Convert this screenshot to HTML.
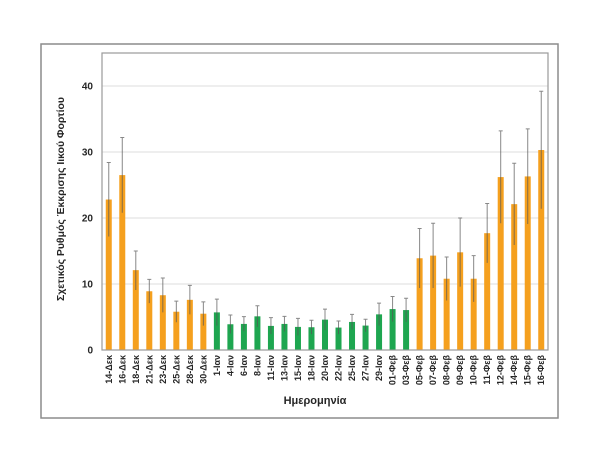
<!DOCTYPE html>
<html><head><meta charset="utf-8"><style>
html,body{margin:0;padding:0;background:#fff;}
svg{display:block;}
text{font-family:"Liberation Sans",sans-serif;font-weight:bold;fill:#262626;}
</style></head><body>
<svg width="600" height="463" viewBox="0 0 600 463" xmlns="http://www.w3.org/2000/svg">
<rect x="0" y="0" width="600" height="463" fill="#fff"/>
<rect x="41" y="44" width="517" height="374" fill="none" stroke="#8c8c8c" stroke-width="1.5"/>
<!-- gridlines -->
<g stroke="#dcdcdc" stroke-width="1">
<line x1="102" y1="284" x2="548" y2="284"/>
<line x1="102" y1="218" x2="548" y2="218"/>
<line x1="102" y1="152" x2="548" y2="152"/>
<line x1="102" y1="86" x2="548" y2="86"/>
</g>
<rect x="102" y="53" width="446" height="297" fill="none" stroke="#9a9a9a" stroke-width="1.2"/>
<!-- bars -->
<g transform="translate(0,350) scale(1,-6.6)">
<g fill="#F5A01E">
<rect x="105.76" y="0" width="6" height="22.8"/>
<rect x="119.27" y="0" width="6" height="26.5"/>
<rect x="132.79" y="0" width="6" height="12.1"/>
<rect x="146.30" y="0" width="6" height="8.9"/>
<rect x="159.82" y="0" width="6" height="8.3"/>
<rect x="173.33" y="0" width="6" height="5.8"/>
<rect x="186.85" y="0" width="6" height="7.6"/>
<rect x="200.36" y="0" width="6" height="5.5"/>
<rect x="416.61" y="0" width="6" height="13.9"/>
<rect x="430.12" y="0" width="6" height="14.3"/>
<rect x="443.64" y="0" width="6" height="10.8"/>
<rect x="457.15" y="0" width="6" height="14.8"/>
<rect x="470.67" y="0" width="6" height="10.8"/>
<rect x="484.18" y="0" width="6" height="17.7"/>
<rect x="497.70" y="0" width="6" height="26.2"/>
<rect x="511.21" y="0" width="6" height="22.1"/>
<rect x="524.73" y="0" width="6" height="26.3"/>
<rect x="538.24" y="0" width="6" height="30.3"/>
</g>
<g fill="#1EA650">
<rect x="213.88" y="0" width="6" height="5.7"/>
<rect x="227.39" y="0" width="6" height="3.9"/>
<rect x="240.91" y="0" width="6" height="3.95"/>
<rect x="254.42" y="0" width="6" height="5.1"/>
<rect x="267.94" y="0" width="6" height="3.65"/>
<rect x="281.45" y="0" width="6" height="3.95"/>
<rect x="294.97" y="0" width="6" height="3.5"/>
<rect x="308.48" y="0" width="6" height="3.45"/>
<rect x="322.00" y="0" width="6" height="4.6"/>
<rect x="335.52" y="0" width="6" height="3.4"/>
<rect x="349.03" y="0" width="6" height="4.25"/>
<rect x="362.55" y="0" width="6" height="3.7"/>
<rect x="376.06" y="0" width="6" height="5.4"/>
<rect x="389.58" y="0" width="6" height="6.2"/>
<rect x="403.09" y="0" width="6" height="6.05"/>
</g>
<!-- error bars -->
<g stroke="#555" stroke-opacity="0.7" stroke-width="1" vector-effect="non-scaling-stroke" fill="none">
<path vector-effect="non-scaling-stroke" d="
M108.76 17.2V28.4M106.76 28.4H110.76
M122.27 20.8V32.2M120.27 32.2H124.27
M135.79 9.1V15.0M133.79 15.0H137.79
M149.30 7.1V10.7M147.30 10.7H151.30
M162.82 5.7V10.9M160.82 10.9H164.82
M176.33 4.2V7.4M174.33 7.4H178.33
M189.85 5.4V9.8M187.85 9.8H191.85
M203.36 3.7V7.3M201.36 7.3H205.36
M216.88 3.7V7.7M214.88 7.7H218.88
M230.39 2.5V5.3M228.39 5.3H232.39
M243.91 2.85V5.05M241.91 5.05H245.91
M257.42 3.5V6.7M255.42 6.7H259.42
M270.94 2.4V4.9M268.94 4.9H272.94
M284.45 2.8V5.1M282.45 5.1H286.45
M297.97 2.2V4.8M295.97 4.8H299.97
M311.48 2.4V4.5M309.48 4.5H313.48
M325.00 3.0V6.2M323.00 6.2H327.00
M338.52 2.4V4.4M336.52 4.4H340.52
M352.03 3.1V5.4M350.03 5.4H354.03
M365.55 2.75V4.65M363.55 4.65H367.55
M379.06 3.7V7.1M377.06 7.1H381.06
M392.58 4.3V8.1M390.58 8.1H394.58
M406.09 4.25V7.85M404.09 7.85H408.09
M419.61 9.4V18.4M417.61 18.4H421.61
M433.12 9.4V19.2M431.12 19.2H435.12
M446.64 7.5V14.1M444.64 14.1H448.64
M460.15 9.6V20.0M458.15 20.0H462.15
M473.67 7.3V14.3M471.67 14.3H475.67
M487.18 13.2V22.2M485.18 22.2H489.18
M500.70 19.2V33.2M498.70 33.2H502.70
M514.21 15.9V28.3M512.21 28.3H516.21
M527.73 19.1V33.5M525.73 33.5H529.73
M541.24 21.4V39.2M539.24 39.2H543.24"/>
</g>
</g>
<line x1="102" y1="350" x2="548" y2="350" stroke="#9a9a9a" stroke-width="1"/>
<!-- y ticks -->
<g font-size="10" text-anchor="end">
<text x="93" y="353.5">0</text>
<text x="93" y="287.5">10</text>
<text x="93" y="221.5">20</text>
<text x="93" y="155.5">30</text>
<text x="93" y="89.5">40</text>
</g>
<text transform="translate(64,199) rotate(-90)" font-size="10.5" text-anchor="middle" textLength="204" lengthAdjust="spacingAndGlyphs">Σχετικός Ρυθμός Έκκρισης Ιικού Φορτίου</text>
<text x="315" y="404" font-size="11" text-anchor="middle">Ημερομηνία</text>
<!-- x labels -->
<g font-size="9" text-anchor="end">
<text transform="translate(111.8,355) rotate(-90)">14-Δεκ</text>
<text transform="translate(125.3,355) rotate(-90)">16-Δεκ</text>
<text transform="translate(138.8,355) rotate(-90)">18-Δεκ</text>
<text transform="translate(152.3,355) rotate(-90)">21-Δεκ</text>
<text transform="translate(165.8,355) rotate(-90)">23-Δεκ</text>
<text transform="translate(179.3,355) rotate(-90)">25-Δεκ</text>
<text transform="translate(192.9,355) rotate(-90)">28-Δεκ</text>
<text transform="translate(206.4,355) rotate(-90)">30-Δεκ</text>
<text transform="translate(219.9,355) rotate(-90)">1-Ιαν</text>
<text transform="translate(233.4,355) rotate(-90)">4-Ιαν</text>
<text transform="translate(246.9,355) rotate(-90)">6-Ιαν</text>
<text transform="translate(260.4,355) rotate(-90)">8-Ιαν</text>
<text transform="translate(273.9,355) rotate(-90)">11-Ιαν</text>
<text transform="translate(287.5,355) rotate(-90)">13-Ιαν</text>
<text transform="translate(301.0,355) rotate(-90)">15-Ιαν</text>
<text transform="translate(314.5,355) rotate(-90)">18-Ιαν</text>
<text transform="translate(328.0,355) rotate(-90)">20-Ιαν</text>
<text transform="translate(341.5,355) rotate(-90)">22-Ιαν</text>
<text transform="translate(355.0,355) rotate(-90)">25-Ιαν</text>
<text transform="translate(368.5,355) rotate(-90)">27-Ιαν</text>
<text transform="translate(382.1,355) rotate(-90)">29-Ιαν</text>
<text transform="translate(395.6,355) rotate(-90)">01-Φεβ</text>
<text transform="translate(409.1,355) rotate(-90)">03-Φεβ</text>
<text transform="translate(422.6,355) rotate(-90)">05-Φεβ</text>
<text transform="translate(436.1,355) rotate(-90)">07-Φεβ</text>
<text transform="translate(449.6,355) rotate(-90)">08-Φεβ</text>
<text transform="translate(463.2,355) rotate(-90)">09-Φεβ</text>
<text transform="translate(476.7,355) rotate(-90)">10-Φεβ</text>
<text transform="translate(490.2,355) rotate(-90)">11-Φεβ</text>
<text transform="translate(503.7,355) rotate(-90)">12-Φεβ</text>
<text transform="translate(517.2,355) rotate(-90)">14-Φεβ</text>
<text transform="translate(530.7,355) rotate(-90)">15-Φεβ</text>
<text transform="translate(544.2,355) rotate(-90)">16-Φεβ</text>
</g>
</svg>
</body></html>
